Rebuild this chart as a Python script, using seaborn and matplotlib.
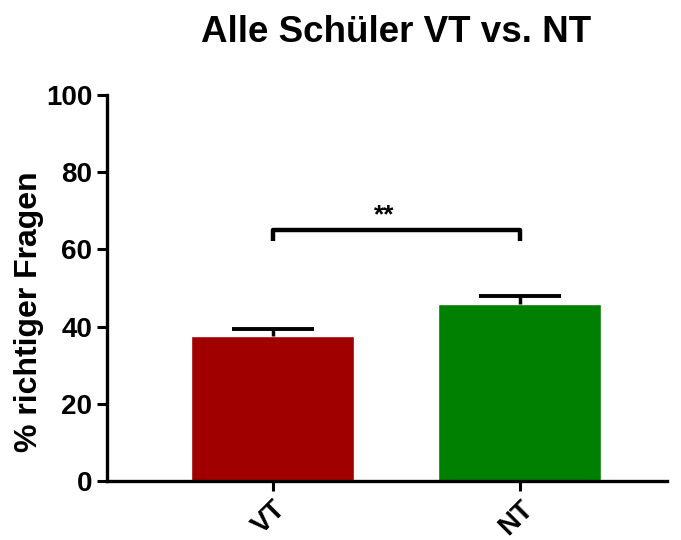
import numpy as np
import pandas as pd
import seaborn as sns
import matplotlib.pyplot as plt

# data
groups = ['VT', 'NT']
means = [37.6, 45.9]
sem = [1.7, 2.0]
bar_colors = ['#a00000', '#008000']
sig_level = 65
sig_label = '**'

sns.set_style('ticks')
plt.rcParams['font.family'] = ['Liberation Sans', 'DejaVu Sans']
plt.rcParams['text.color'] = 'black'
plt.rcParams['axes.labelcolor'] = 'black'
plt.rcParams['xtick.color'] = 'black'
plt.rcParams['ytick.color'] = 'black'
plt.rcParams['axes.edgecolor'] = 'black'

df = pd.DataFrame({'group': groups, 'value': means})

fig = plt.figure(figsize=(6.81, 5.4), dpi=100)
ax = fig.add_axes([0.157, 0.109, 0.822, 0.715])

sns.barplot(data=df, x='group', y='value', hue='group', palette=bar_colors,
            width=0.66, errorbar=None, legend=False, ax=ax, saturation=1)

# upper error bars only (stem + cap)
xpos = np.arange(len(groups))
tops = np.array(means) + np.array(sem)
ax.vlines(xpos, means, tops, color='black', lw=2.5)
ax.hlines(tops, xpos - 0.166, xpos + 0.166, color='black', lw=2.8)

# significance bracket
ax.plot([0, 0, 1, 1], [sig_level - 2.7, sig_level, sig_level, sig_level - 2.7],
        color='black', lw=3.2, solid_joinstyle='round', solid_capstyle='butt')
ax.text(0.45, sig_level + 0.8, sig_label, ha='center', va='bottom',
        fontsize=19, fontweight='bold')

ax.set_ylim(0, 100)
ax.set_xlim(-0.672, 1.595)
ax.set_yticks([0, 20, 40, 60, 80, 100])
ax.set_xlabel('')
ax.set_ylabel('% richtiger Fragen', fontsize=23, fontweight='bold')
ax.yaxis.set_label_coords(-0.113, 0.44)
ax.set_title('Alle Schüler VT vs. NT', fontsize=26.5, fontweight='bold', pad=38, x=0.516)

ax.tick_params(axis='both', width=2.2, length=7, labelsize=20)
for lab in ax.get_yticklabels():
    lab.set_fontweight('bold')
for lab in ax.get_xticklabels():
    lab.set_fontweight('bold')
    lab.set_rotation(45)
    lab.set_ha('right')
    lab.set_rotation_mode('anchor')

sns.despine(ax=ax)
for s in ['left', 'bottom']:
    ax.spines[s].set_linewidth(2.4)

fig.savefig('out.png', dpi=100)
